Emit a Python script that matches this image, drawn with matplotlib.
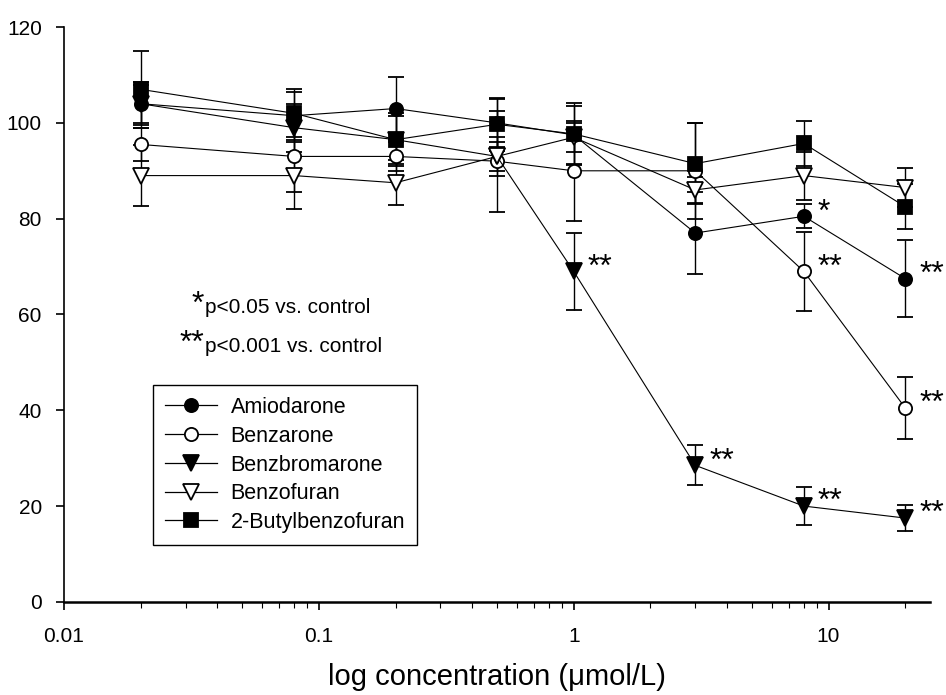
import matplotlib
matplotlib.use("Agg")
import matplotlib.pyplot as plt
from matplotlib.lines import Line2D
from matplotlib.ticker import LogLocator, NullFormatter, FixedLocator, FixedFormatter

plt.rcParams['font.family'] = ['Liberation Sans', 'DejaVu Sans']

conc = [0.02, 0.08, 0.2, 0.5, 1, 3, 8, 20]

amiodarone = [104, 101.5, 103, 100, 97.5, 77, 80.5, 67.5]
amiodarone_err = [4.5, 5, 6.5, 5, 6, 8.5, 2.5, 8]
amiodarone_sig = ['', '', '', '', '', '', '*', '**']

benzarone = [95.5, 93, 93, 92, 90, 90, 69, 40.5]
benzarone_err = [3.5, 7.5, 3, 10.5, 10.5, 10, 8.3, 6.4]
benzarone_sig = ['', '', '', '', '', '', '**', '**']

benzbromarone = [104, 99, 96.5, 93, 69, 28.5, 20, 17.5]
benzbromarone_err = [4, 5, 5.5, 4, 8, 4.2, 4, 2.7]
benzbromarone_sig = ['', '', '', '', '**', '**', '**', '**']

benzofuran = [89, 89, 87.5, 93, 97, 86, 89, 86.5]
benzofuran_err = [6.3, 7, 4.7, 3, 3, 2.7, 5, 4]
benzofuran_sig = ['', '', '', '', '', '', '', '']

butylbenzofuran = [107, 102, 96.5, 99.7, 97.7, 91.5, 95.7, 82.5]
butylbenzofuran_err = [8, 5, 5, 5.5, 6.5, 8.5, 4.6, 4.7]
butylbenzofuran_sig = ['', '', '', '', '', '', '', '']

series_names = ['Amiodarone', 'Benzarone', 'Benzbromarone', 'Benzofuran', '2-Butylbenzofuran']
x_tick_values = [0.01, 0.1, 1, 10]
x_tick_labels = ['0.01', '0.1', '1', '10']
y_tick_values = [0, 20, 40, 60, 80, 100, 120]

series = [
    (amiodarone, amiodarone_err, amiodarone_sig, 'o', 'black', 9.5),
    (benzarone, benzarone_err, benzarone_sig, 'o', 'white', 9.5),
    (benzbromarone, benzbromarone_err, benzbromarone_sig, 'v', 'black', 11),
    (benzofuran, benzofuran_err, benzofuran_sig, 'v', 'white', 11),
    (butylbenzofuran, butylbenzofuran_err, butylbenzofuran_sig, 's', 'black', 9.5),
]

fig = plt.figure(figsize=(9.46, 6.95), dpi=100)
ax = fig.add_axes([0.0677, 0.134, 0.9153, 0.827])

handles = []
for (vals, errs, sigs, mk, fc, ms), name in zip(series, series_names):
    ax.errorbar(conc, vals, yerr=errs, fmt='-', marker=mk, color='black',
                mfc=fc, mec='black', mew=1.3, ms=ms, lw=0.8,
                elinewidth=1.0, capsize=6, capthick=1.0)
    handles.append(Line2D([], [], color='black', lw=0.9, marker=mk, mfc=fc,
                          mec='black', mew=1.3, ms=ms))
    for xv, yv, s in zip(conc, vals, sigs):
        if s:
            ax.annotate(s, (xv, yv), xytext=(10, -3), textcoords='offset points',
                        ha='left', va='baseline', fontsize=23)

ax.set_xscale('log')
ax.set_xlim(0.01, 25)
ax.set_ylim(0, 120)
ax.xaxis.set_major_locator(FixedLocator(x_tick_values))
ax.xaxis.set_major_formatter(FixedFormatter(x_tick_labels))
ax.xaxis.set_minor_locator(LogLocator(base=10, subs=range(2, 10)))
ax.xaxis.set_minor_formatter(NullFormatter())
ax.set_yticks(y_tick_values)

for side in ['top', 'right']:
    ax.spines[side].set_visible(False)
ax.spines['bottom'].set_linewidth(1.8)
ax.spines['left'].set_linewidth(1.2)
ax.tick_params(axis='both', which='major', direction='out', length=6, width=1.2,
               labelsize=15)
ax.tick_params(axis='y', which='major', pad=10)
ax.tick_params(axis='x', which='major', pad=12)
ax.tick_params(axis='x', which='minor', direction='out', length=4, width=0.8)

ax.set_xlabel('log concentration (\u03bcmol/L)', fontsize=21, labelpad=12)

# significance key
ax.text(0.1614, 0.503, '*', transform=ax.transAxes, ha='right', va='baseline', fontsize=23)
ax.text(0.163, 0.503, 'p<0.05 vs. control', transform=ax.transAxes, ha='left', va='baseline', fontsize=15)
ax.text(0.1614, 0.435, '**', transform=ax.transAxes, ha='right', va='baseline', fontsize=23)
ax.text(0.163, 0.435, 'p<0.001 vs. control', transform=ax.transAxes, ha='left', va='baseline', fontsize=15)

leg = ax.legend(handles=handles, labels=series_names, loc='upper left',
                bbox_to_anchor=(0.1028, 0.377), fontsize=15.5, frameon=True,
                fancybox=False, edgecolor='black', framealpha=1,
                handlelength=2.4, labelspacing=0.36, borderpad=0.55,
                handletextpad=0.65, borderaxespad=0)
leg.get_frame().set_linewidth(1.0)

fig.savefig('out.png', dpi=100)
